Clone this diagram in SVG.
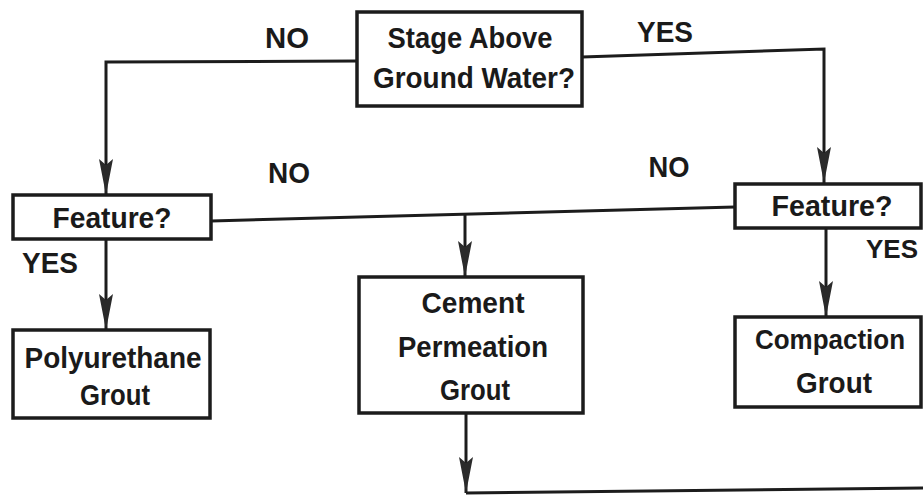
<svg xmlns="http://www.w3.org/2000/svg" width="923" height="495" viewBox="0 0 923 495">
<defs>
<style>
.box{fill:#fff;stroke:#1c1c1c;stroke-width:3.5}
.ln{fill:none;stroke:#1c1c1c;stroke-width:3}
.t{font-family:"Liberation Sans",Arial,sans-serif;font-weight:bold;font-size:30px;fill:#1a1a1a}
.c{text-anchor:middle}
</style>
<marker id="ah" markerUnits="userSpaceOnUse" markerWidth="38" markerHeight="16" refX="36" refY="8" orient="auto">
<path d="M0,1 L36,8 L0,15 L6,8 Z" fill="#2a2a2a"/>
</marker>
</defs>
<rect width="923" height="495" fill="#fff"/>
<g id="connectors">
<polyline class="ln" points="357,61 106,62 106,195" marker-end="url(#ah)"/>
<polyline class="ln" points="582,57 824,49 824,183" marker-end="url(#ah)"/>
<polyline class="ln" points="211,221 735,207"/>
<polyline class="ln" points="465,215 465,277" marker-end="url(#ah)"/>
<polyline class="ln" points="106,239 106,330" marker-end="url(#ah)"/>
<polyline class="ln" points="826,228 826,317" marker-end="url(#ah)"/>
<polyline class="ln" points="466,413 466,493" marker-end="url(#ah)"/>
<polyline class="ln" points="466,493 923,488"/>
<text class="t c" x="287" y="48" textLength="44" lengthAdjust="spacingAndGlyphs">NO</text>
<text class="t c" x="665" y="42" textLength="56" lengthAdjust="spacingAndGlyphs">YES</text>
<text class="t c" x="289" y="183" textLength="42" lengthAdjust="spacingAndGlyphs">NO</text>
<text class="t c" x="669" y="177" textLength="41" lengthAdjust="spacingAndGlyphs">NO</text>
<text class="t c" x="50" y="273" textLength="56" lengthAdjust="spacingAndGlyphs">YES</text>
<text class="t" x="866" y="258" style="font-size:26px" textLength="52" lengthAdjust="spacingAndGlyphs">YES</text>
</g>
<g id="n_stage">
<rect class="box" x="357" y="12" width="225" height="94"/>
<text class="t c" x="470" y="48" textLength="165" lengthAdjust="spacingAndGlyphs">Stage Above</text>
<text class="t c" x="474" y="88" textLength="202" lengthAdjust="spacingAndGlyphs">Ground Water?</text>
</g>
<g id="n_feature_left">
<rect class="box" x="13" y="195" width="198" height="44"/>
<text class="t c" x="112" y="228" textLength="119" lengthAdjust="spacingAndGlyphs">Feature?</text>
</g>
<g id="n_feature_right">
<rect class="box" x="735" y="184" width="186" height="44"/>
<text class="t c" x="832" y="216" textLength="121" lengthAdjust="spacingAndGlyphs">Feature?</text>
</g>
<g id="n_polyurethane">
<rect class="box" x="13" y="330" width="197" height="88"/>
<text class="t c" x="113" y="368" textLength="177" lengthAdjust="spacingAndGlyphs">Polyurethane</text>
<text class="t c" x="115" y="405" textLength="70" lengthAdjust="spacingAndGlyphs">Grout</text>
</g>
<g id="n_cement">
<rect class="box" x="359" y="277" width="224" height="136"/>
<text class="t c" x="473" y="313" textLength="103" lengthAdjust="spacingAndGlyphs">Cement</text>
<text class="t c" x="473" y="357" textLength="150" lengthAdjust="spacingAndGlyphs">Permeation</text>
<text class="t c" x="475" y="400" textLength="70" lengthAdjust="spacingAndGlyphs">Grout</text>
</g>
<g id="n_compaction">
<rect class="box" x="735" y="317" width="186" height="90"/>
<text class="t c" x="830" y="349" style="font-size:27px" textLength="150" lengthAdjust="spacingAndGlyphs">Compaction</text>
<text class="t c" x="834" y="393" textLength="76" lengthAdjust="spacingAndGlyphs">Grout</text>
</g>
</svg>
